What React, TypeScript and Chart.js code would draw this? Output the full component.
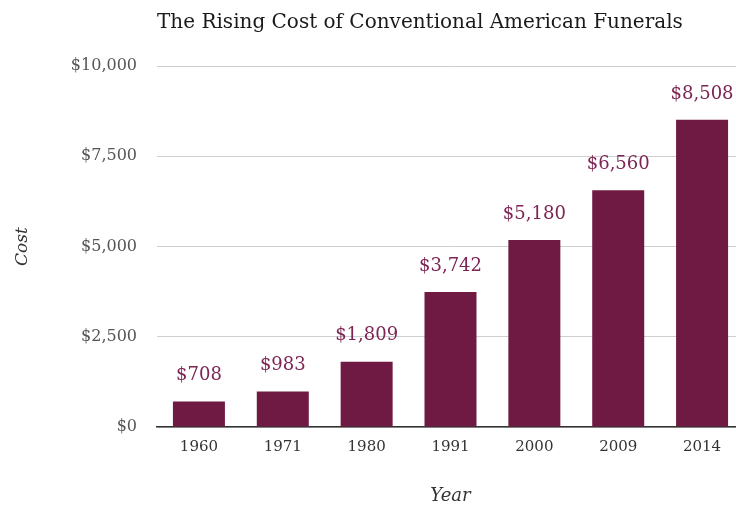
import React, { useEffect, useRef } from "react";
import { Chart, registerables } from "chart.js";

Chart.register(...registerables);

const TITLE = "The Rising Cost of Conventional American Funerals";
const years = ["1960", "1971", "1980", "1991", "2000", "2009", "2014"];
const costs = [708, 983, 1809, 3742, 5180, 6560, 8508];
const yTicks = [0, 2500, 5000, 7500, 10000];
const BAR = "#6f1a42";
const LABEL = "#7c2453";
const FONT = "DejaVu Serif";

const fmt = (v: number) => "$" + v.toLocaleString("en-US");

const titlePlugin = {
  id: "customTitle",
  afterDraw(chart: any) {
    const { ctx, chartArea } = chart;
    ctx.save();
    ctx.font = `20px "${FONT}", serif`;
    ctx.fillStyle = "#1a1a1a";
    ctx.textAlign = "left";
    ctx.textBaseline = "middle";
    ctx.fillText(TITLE, chartArea.left, 23);
    ctx.restore();
  },
};

const labelPlugin = {
  id: "barLabels",
  afterDatasetsDraw(chart: any) {
    const { ctx } = chart;
    const meta = chart.getDatasetMeta(0);
    ctx.save();
    ctx.font = `18px "${FONT}", serif`;
    ctx.fillStyle = LABEL;
    ctx.textAlign = "center";
    ctx.textBaseline = "bottom";
    meta.data.forEach((bar: any, i: number) => {
      ctx.fillText(fmt(costs[i]), bar.x, bar.y - 17);
    });
    ctx.restore();
  },
};

export default function App() {
  const ref = useRef<HTMLCanvasElement>(null);
  useEffect(() => {
    if (!ref.current) return;
    const chart = new Chart(ref.current, {
      type: "bar",
      data: {
        labels: years,
        datasets: [
          {
            data: costs,
            backgroundColor: BAR,
            categoryPercentage: 0.62,
            barPercentage: 1,
          },
        ],
      },
      options: {
        animation: false,
        responsive: false,
        maintainAspectRatio: false,
        layout: { padding: { top: 66, left: 0, right: 0, bottom: 0 } },
        plugins: {
          legend: { display: false },
          title: { display: false },
          tooltip: { enabled: false },
        },
        scales: {
          x: {
            grid: { display: false, drawTicks: false },
            border: { display: true, color: "#333", width: 1.5 },
            ticks: { color: "#333", font: { family: FONT, size: 15 }, padding: 11 },
            title: {
              display: true,
              text: "Year",
              color: "#333",
              font: { family: FONT, size: 18, style: "italic" },
              padding: { top: 0, bottom: 1 },
            },
            afterFit(scale: any) {
              scale.height = 81;
            },
          },
          y: {
            min: 0,
            max: 10000,
            afterBuildTicks(scale: any) {
              scale.ticks = yTicks.map((v) => ({ value: v }));
            },
            grid: { color: "#cfcfcf", drawTicks: false },
            border: { display: false },
            ticks: {
              color: "#555",
              font: { family: FONT, size: 16 },
              padding: 20,
              callback: (v: any) => fmt(Number(v)),
            },
            title: {
              display: true,
              text: "Cost",
              color: "#333",
              font: { family: FONT, size: 17, style: "italic" },
              padding: { top: 12, bottom: 0 },
            },
            afterFit(scale: any) {
              scale.width = 157;
            },
          },
        },
      },
      plugins: [titlePlugin, labelPlugin],
    });
    return () => chart.destroy();
  }, []);
  return (
    <div
      style={{
        position: "fixed",
        left: 0,
        top: 0,
        width: 736,
        height: 508,
        overflow: "hidden",
        background: "#fff",
      }}
    >
      <canvas ref={ref} width={744} height={508} style={{ display: "block" }} />
    </div>
  );
}
